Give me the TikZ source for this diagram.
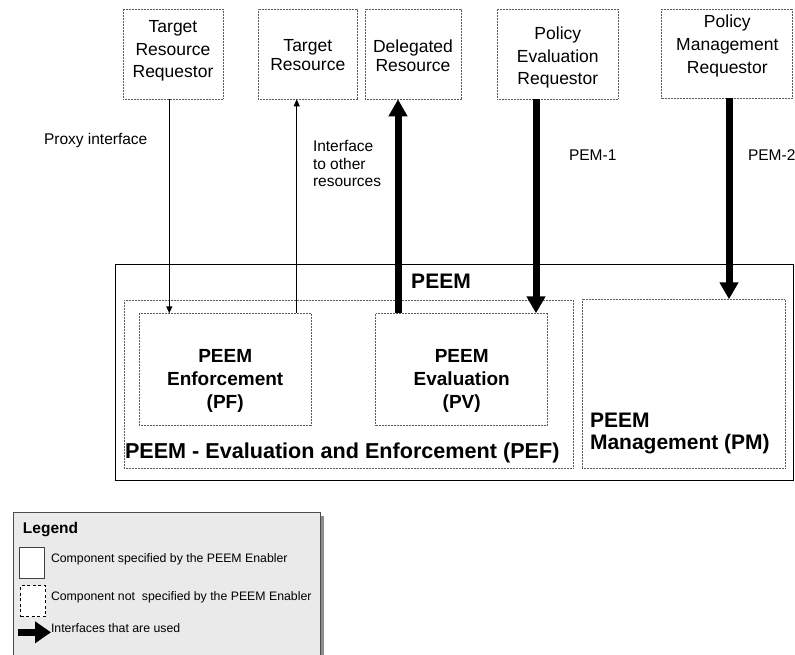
\documentclass[tikz,border=0pt]{standalone}
\usepackage{fontspec}
\setmainfont{Liberation Sans}
\usetikzlibrary{arrows.meta}

\newcommand{\fsz}[2]{\fontsize{#1}{#2}\selectfont}
\definecolor{legendbg}{RGB}{234,234,234}
\definecolor{dotgray}{RGB}{90,90,90}

\begin{document}
\begin{tikzpicture}[x=1pt,y=-1pt,
  every node/.style={inner sep=0pt,outer sep=0pt},
  box/.style={rectangle,anchor=north west},
  dotbox/.style={box,draw=dotgray,line width=0.9pt,dash pattern=on 0.9pt off 0.6pt},
  solidbox/.style={box,draw=black,line width=1pt},
  reqtext/.style={align=center,font=\fsz{17.5}{22.8}},
  tighttext/.style={align=center,font=\fsz{17.5}{19}},
  boldtext/.style={align=center,font=\bfseries\fsz{19}{23}},
  boldlabel/.style={font=\bfseries\fsz{21}{22.5}},
  lbl/.style={font=\fsz{15.5}{17.5},align=left},
  thinarrow/.style={draw,line width=0.9pt,-{Triangle[length=7pt,width=6pt]}},
  fatarrow/.style={draw,line width=7pt,-{Triangle[length=17pt,width=18pt]}},
  legtext/.style={font=\fsz{12.3}{14},anchor=base west}
]
\useasboundingbox (0,0) rectangle (795,654);

% requestor and resource boxes along the top
\node[dotbox,minimum width=100pt,minimum height=90pt] (trr) at (123,9.3) {};
\node[dotbox,minimum width=99pt,minimum height=90pt] (tr) at (258.3,9.3) {};
\node[dotbox,minimum width=96pt,minimum height=90pt] (dr) at (365,9.3) {};
\node[dotbox,minimum width=121pt,minimum height=90pt] (per) at (497.3,9.3) {};
\node[dotbox,minimum width=131pt,minimum height=89pt] (pmr) at (661.7,9.3) {};

\node[reqtext] (trr-t) at (173,50.8) {Target\\Resource\\Requestor};
\node[tighttext] (tr-t) at (307.8,55.3) {Target\\Resource};
\node[tighttext] (dr-t) at (413,55.3) {Delegated\\Resource};
\node[reqtext] (per-t) at (557.8,57.5) {Policy\\Evaluation\\Requestor};
\node[reqtext] (pmr-t) at (727.3,46) {Policy\\Management\\Requestor};

% the PEEM enabler and its components
\node[solidbox,minimum width=677.6pt,minimum height=215.7pt] (peem) at (115.7,264.3) {};
\node[boldlabel] (peem-t) at (441,281.5) {PEEM};
\node[dotbox,minimum width=449pt,minimum height=168pt] (pef) at (124.3,300) {};
\node[dotbox,minimum width=203pt,minimum height=168.7pt] (pm) at (582,299.3) {};
\node[dotbox,minimum width=171.7pt,minimum height=111.7pt] (pf) at (139.3,313.3) {};
\node[dotbox,minimum width=172pt,minimum height=111.7pt] (pv) at (375.7,313.3) {};

\node[boldtext] (pf-t) at (225.2,381) {PEEM\\Enforcement\\(PF)};
\node[boldtext] (pv-t) at (461.7,381) {PEEM\\Evaluation\\(PV)};
\node[boldlabel,font=\bfseries\fsz{21.6}{22.5},anchor=base west] (pef-t) at (125,458) {PEEM - Evaluation and Enforcement (PEF)};
\node[boldlabel,align=left,anchor=west] (pm-t) at (590,433.7) {PEEM\\Management (PM)};

% interfaces
\coordinate (xproxy) at (169.3,0);
\coordinate (xother) at (296.7,0);
\coordinate (xdeleg) at (398,0);
\coordinate (xpem1) at (536,0);
\coordinate (xpem2) at (729,0);

\draw[thinarrow] (trr.south -| xproxy) -- (pf.north -| xproxy);
\draw[thinarrow] (pf.north -| xother) -- (tr.south -| xother);
\draw[fatarrow] (pv.north -| xdeleg) -- (dr.south -| xdeleg);
\draw[fatarrow] (per.south -| xpem1) -- (pv.north -| xpem1);
\draw[fatarrow] (pmr.south -| xpem2) -- (pm.north -| xpem2);

\node[lbl,anchor=base west] (l-proxy) at (44,144) {Proxy interface};
\node[lbl,anchor=north west] (l-other) at (313,140.5) {Interface\\to other\\resources};
\node[lbl,anchor=base west] (l-pem1) at (569,160) {PEM-1};
\node[lbl,anchor=base west] (l-pem2) at (748,160) {PEM-2};

% legend, running off the lower edge
\begin{scope}
\clip (0,0) rectangle (795,654);
\node[box,fill=black!45,minimum width=307pt,minimum height=160pt] (legshadow) at (16.5,516) {};
\node[box,fill=legendbg,draw=black!70,line width=1.1pt,minimum width=307pt,minimum height=160pt] (legend) at (13.3,512.7) {};
\end{scope}
\node[font=\bfseries\fsz{15.5}{17},anchor=base west] (leg-title) at (23,533.3) {Legend};
\node[box,fill=white,draw=black!75,line width=1pt,minimum width=25pt,minimum height=31pt] (leg-solid) at (19.3,547.3) {};
\node[legtext] (leg-solid-t) at (51,562.7) {Component specified by the PEEM Enabler};
\node[box,fill=white,draw=black,line width=0.9pt,dash pattern=on 3pt off 2.5pt,minimum width=25pt,minimum height=31pt] (leg-dash) at (20.7,585.7) {};
\node[legtext] (leg-dash-t) at (51,600) {Component not~ specified by the PEEM Enabler};
\coordinate (leg-a) at (18,632.3);
\coordinate (leg-b) at (51,632.3);
\draw[line width=6.5pt,-{Triangle[length=16pt,width=21pt]}] (leg-a) -- (leg-b);
\node[legtext] (leg-arrow-t) at (51,632.7) {Interfaces that are used};
\end{tikzpicture}
\end{document}
